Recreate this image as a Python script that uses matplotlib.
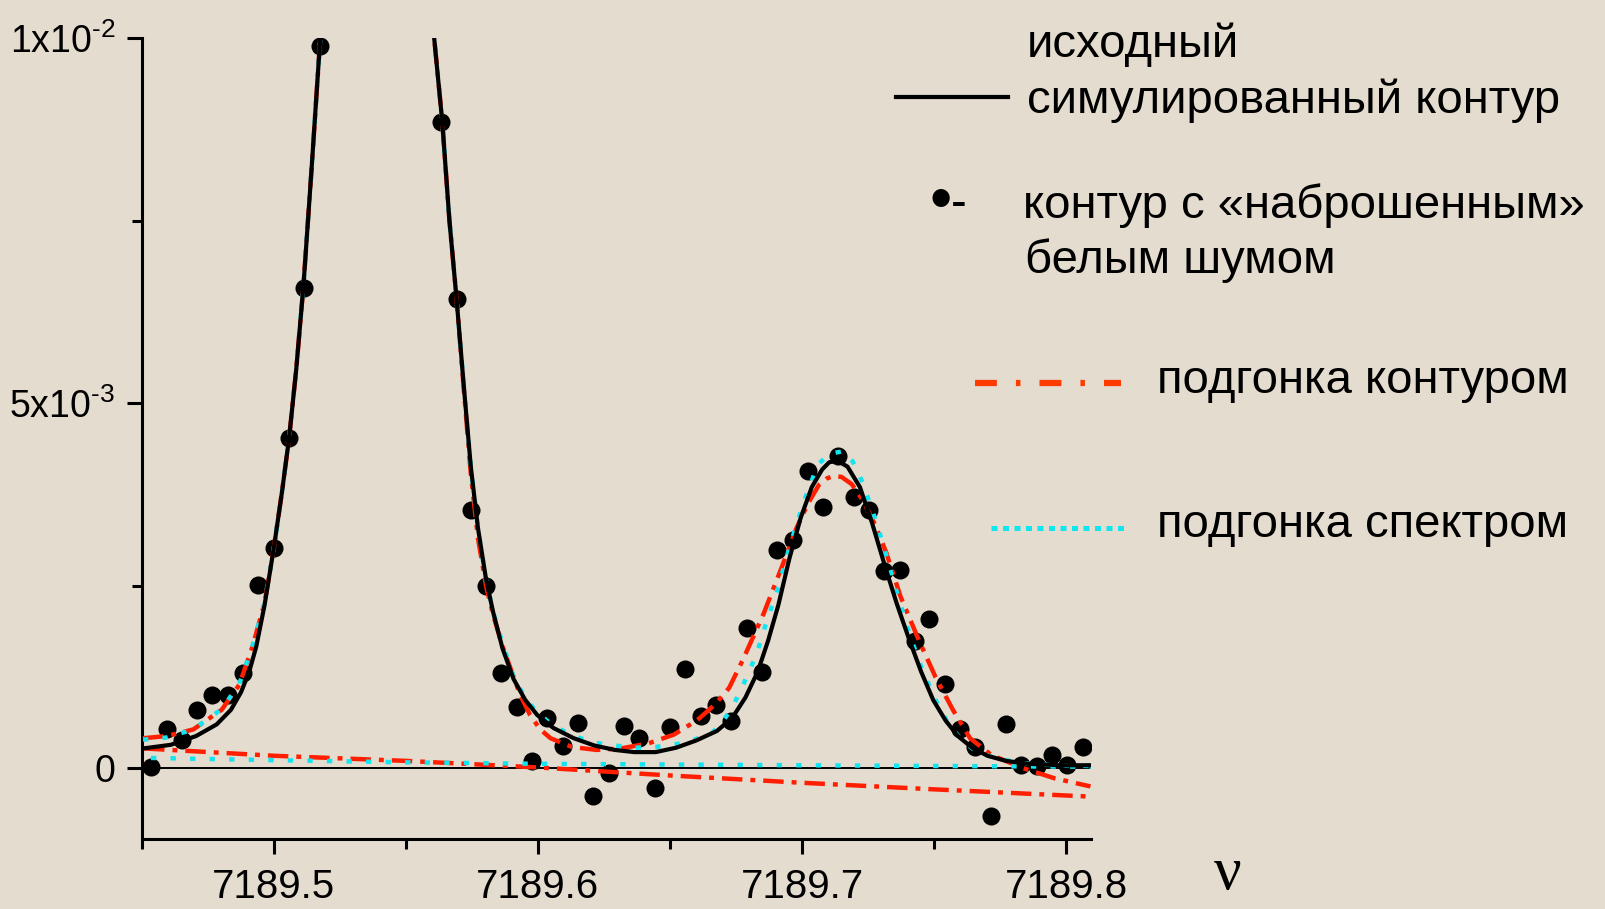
import matplotlib
matplotlib.use("Agg")
import matplotlib.pyplot as plt
from matplotlib.lines import Line2D
import numpy as np

plt.rcParams["font.family"] = ["Liberation Sans", "DejaVu Sans"]
plt.rcParams["mathtext.fontset"] = "custom"
plt.rcParams["mathtext.rm"] = "Liberation Sans"
plt.rcParams["mathtext.it"] = "Liberation Sans:italic"
plt.rcParams["mathtext.bf"] = "Liberation Sans:bold"

# all intensities below are in units of 1e-3
UNIT = 1e-3

# noisy contour (points)
noisy_nu = [7189.4536, 7189.4594, 7189.4652, 7189.4710, 7189.4768, 7189.4826,
            7189.4884, 7189.4942, 7189.5000, 7189.5058, 7189.5116, 7189.5174,
            7189.5634, 7189.5692, 7189.5746, 7189.5804, 7189.5862, 7189.5920,
            7189.5978, 7189.6036, 7189.6094, 7189.6152, 7189.6210, 7189.6268,
            7189.6326, 7189.6384, 7189.6442, 7189.6500, 7189.6558, 7189.6616,
            7189.6674, 7189.6732, 7189.6790, 7189.6848, 7189.6906, 7189.6964,
            7189.7022, 7189.7080, 7189.7138, 7189.7196, 7189.7254, 7189.7312,
            7189.7370, 7189.7428, 7189.7482, 7189.7540, 7189.7598, 7189.7656,
            7189.7714, 7189.7772, 7189.7830, 7189.7888, 7189.7946, 7189.8004,
            7189.8062]
noisy_val = [0.01, 0.53, 0.38, 0.79, 1.00, 1.00, 1.31, 2.51, 3.02, 4.52, 6.57, 9.89,
             8.85, 6.43, 3.53, 2.50, 1.31, 0.84, 0.10, 0.69, 0.31, 0.62, -0.38, -0.07,
             0.58, 0.42, -0.27, 0.56, 1.36, 0.72, 0.86, 0.65, 1.92, 1.32, 2.99, 3.12,
             4.07, 3.58, 4.28, 3.71, 3.54, 2.70, 2.71, 1.74, 2.04, 1.15, 0.53, 0.29,
             -0.66, 0.60, 0.04, 0.03, 0.18, 0.04, 0.29]

# original simulated contour
sim_nu = [7189.4505, 7189.4610, 7189.4706, 7189.4784, 7189.4838, 7189.4876,
          7189.4907, 7189.4934, 7189.4965, 7189.5000, 7189.5031, 7189.5058,
          7189.5085, 7189.5112, 7189.5143, 7189.5174, 7189.5186,
          7189.5599, 7189.5607, 7189.5638, 7189.5665, 7189.5692, 7189.5719,
          7189.5746, 7189.5773, 7189.5804, 7189.5831, 7189.5866, 7189.5908,
          7189.5951, 7189.5997, 7189.6059, 7189.6136, 7189.6214, 7189.6291,
          7189.6365, 7189.6446, 7189.6523, 7189.6600, 7189.6678, 7189.6736,
          7189.6786, 7189.6832, 7189.6871, 7189.6910, 7189.6952, 7189.6995,
          7189.7037, 7189.7076, 7189.7103, 7189.7134, 7189.7172, 7189.7219,
          7189.7265, 7189.7312, 7189.7358, 7189.7404, 7189.7451, 7189.7497,
          7189.7544, 7189.7590, 7189.7644, 7189.7702, 7189.7772, 7189.7857,
          7189.7973, 7189.8092]
sim_val = [0.27, 0.32, 0.44, 0.60, 0.80, 1.04, 1.32, 1.67, 2.23, 3.01, 3.78, 4.52,
           5.46, 6.59, 8.20, 9.89, 10.45,
           10.45, 10.01, 8.85, 7.50, 6.43, 5.25, 4.13, 3.29, 2.58, 2.13, 1.64, 1.22,
           0.94, 0.73, 0.55, 0.41, 0.31, 0.25, 0.22, 0.22, 0.28, 0.38, 0.51, 0.69,
           0.97, 1.32, 1.74, 2.23, 2.87, 3.43, 3.85, 4.09, 4.19, 4.21, 4.13, 3.85,
           3.36, 2.79, 2.26, 1.78, 1.32, 0.93, 0.65, 0.44, 0.28, 0.17, 0.10, 0.06,
           0.04, 0.04]

# fit by contour (red): line + baseline
fitc_nu = [7189.4505, 7189.4594, 7189.4695, 7189.4803, 7189.4869, 7189.4919,
           7189.4965, 7189.5000, 7189.5031, 7189.5058, 7189.5085, 7189.5112,
           7189.5143, 7189.5174, 7189.5186,
           7189.5599, 7189.5607, 7189.5638, 7189.5665, 7189.5692, 7189.5719,
           7189.5746, 7189.5773, 7189.5804, 7189.5831, 7189.5866, 7189.5897,
           7189.5932, 7189.5970, 7189.6009, 7189.6048, 7189.6129, 7189.6222,
           7189.6314, 7189.6419, 7189.6515, 7189.6604, 7189.6670, 7189.6724,
           7189.6778, 7189.6855, 7189.6925, 7189.6979, 7189.7025, 7189.7064,
           7189.7095, 7189.7118, 7189.7149, 7189.7188, 7189.7230, 7189.7277,
           7189.7319, 7189.7373, 7189.7439, 7189.7505, 7189.7571, 7189.7636,
           7189.7717, 7189.7837, 7189.7957, 7189.8092]
fitc_val = [0.41, 0.44, 0.53, 0.80, 1.14, 1.66, 2.26, 3.01, 3.78, 4.52, 5.46, 6.59,
            8.20, 9.89, 10.45,
            10.45, 10.01, 8.85, 7.50, 6.43, 5.21, 4.03, 3.15, 2.49, 2.09, 1.67, 1.36,
            1.01, 0.73, 0.53, 0.41, 0.29, 0.25, 0.27, 0.34, 0.46, 0.66, 0.87, 1.10,
            1.50, 2.12, 2.77, 3.29, 3.64, 3.88, 3.97, 4.00, 3.99, 3.89, 3.67, 3.33,
            2.95, 2.35, 1.78, 1.25, 0.80, 0.41, 0.18, 0.00, -0.14, -0.25]
basec_nu = [7189.4509, 7189.50, 7189.55, 7189.60, 7189.65, 7189.70, 7189.75, 7189.8094]
basec_val = [0.27, 0.17, 0.10, 0.01, -0.10, -0.20, -0.29, -0.39]

# fit by spectrum (cyan): line + baseline
fits_nu = [7189.4505, 7189.4594, 7189.4695, 7189.4803, 7189.4869, 7189.4919,
           7189.4965, 7189.5000, 7189.5031, 7189.5058, 7189.5085, 7189.5112,
           7189.5143, 7189.5174, 7189.5186,
           7189.5599, 7189.5607, 7189.5638, 7189.5665, 7189.5692, 7189.5719,
           7189.5746, 7189.5773, 7189.5804, 7189.5831, 7189.5866, 7189.5908,
           7189.5951, 7189.5997, 7189.6059, 7189.6136, 7189.6214, 7189.6291,
           7189.6368, 7189.6446, 7189.6562, 7189.6658, 7189.6697, 7189.6740,
           7189.6778, 7189.6828, 7189.6867, 7189.6906, 7189.6940, 7189.6975,
           7189.7014, 7189.7060, 7189.7107, 7189.7157, 7189.7192, 7189.7227,
           7189.7269, 7189.7308, 7189.7339, 7189.7377, 7189.7412, 7189.7455,
           7189.7505, 7189.7551, 7189.7605, 7189.7663, 7189.7741, 7189.7837,
           7189.7953, 7189.8092]
fits_val = [0.39, 0.42, 0.53, 0.81, 1.15, 1.67, 2.26, 3.01, 3.78, 4.52, 5.46, 6.59,
            8.20, 9.89, 10.45,
            10.45, 10.01, 8.85, 7.50, 6.43, 5.25, 4.13, 3.29, 2.57, 2.13, 1.71, 1.25,
            0.97, 0.76, 0.58, 0.44, 0.35, 0.31, 0.28, 0.29, 0.35, 0.48, 0.62, 0.86,
            1.15, 1.56, 2.02, 2.43, 2.87, 3.29, 3.72, 4.16, 4.31, 4.34, 4.20, 3.93,
            3.50, 3.06, 2.65, 2.19, 1.78, 1.35, 0.94, 0.63, 0.38, 0.22, 0.13, 0.07,
            0.04, 0.03]
bases_nu = [7189.4535, 7189.50, 7189.55, 7189.60, 7189.65, 7189.70, 7189.75, 7189.8094]
bases_val = [0.14, 0.11, 0.08, 0.06, 0.05, 0.04, 0.03, 0.02]

x_ticks = [7189.5, 7189.6, 7189.7, 7189.8]
x_labels = ["7189.5", "7189.6", "7189.7", "7189.8"]
y_ticks = [0, 5e-3, 1e-2]
y_labels = ["0", r"5x10$^{\text{-}3}$", r"1x10$^{\text{-}2}$"]

BG = "#e4dccf"
RED = "#ff1e00"
CYAN = "#12e4f0"

W, H = 1605, 909
fig = plt.figure(figsize=(W / 100, H / 100), dpi=100, facecolor=BG)
ax = fig.add_axes([141.7 / W, 70 / H, 949.3 / W, 801 / H])
ax.set_facecolor("none")

s = lambda v: np.array(v) * UNIT

ax.axhline(0, color="black", lw=1.4, zorder=1)
ax.plot(noisy_nu, s(noisy_val), "o", color="black", ms=13, mew=0, zorder=2)
ax.plot(basec_nu, s(basec_val), color=RED, lw=3.2,
        linestyle=(0, (4.6, 1.8, 1.1, 1.8)), zorder=3)
ax.plot(fitc_nu, s(fitc_val), color=RED, lw=3.2,
        linestyle=(0, (4.6, 1.8, 1.1, 1.8)), zorder=3)
ax.plot(bases_nu, s(bases_val), color=CYAN, lw=3.2,
        linestyle=(0, (1.2, 3.2)), zorder=4)
ax.plot(fits_nu, s(fits_val), color=CYAN, lw=3.2,
        linestyle=(0, (1.2, 3.2)), zorder=4)
ax.plot(sim_nu, s(sim_val), color="black", lw=3.0, zorder=5)

ax.set_xlim(7189.4509, 7189.8094)
ax.set_ylim(-0.97e-3, 1.0e-2)

for side in ("top", "right"):
    ax.spines[side].set_visible(False)
for side in ("left", "bottom"):
    ax.spines[side].set_linewidth(2.2)

ax.set_xticks(x_ticks)
ax.set_xticklabels(x_labels, fontsize=29)
ax.set_xticks([7189.45, 7189.55, 7189.65, 7189.75], minor=True)
ax.set_yticks(y_ticks)
ax.set_yticklabels(y_labels, fontsize=27)
ax.set_yticks([2.5e-3, 7.5e-3], minor=True)
ax.tick_params(which="major", direction="out", length=11, width=2.2)
ax.tick_params(which="minor", direction="out", length=7, width=2.2)
ax.tick_params(axis="x", which="major", pad=10)
ax.tick_params(axis="y", which="major", pad=8)

# axis symbol
fig.text(1228 / W, 1 - 874 / H, "ν", family=["Liberation Serif", "DejaVu Serif"],
         fontsize=44, ha="center", va="center")

# hand-placed legend
def fy(y):
    return 1 - y / H

LEG = 34
fig.text(1027 / W, fy(45), "исходный", fontsize=LEG, va="center")
fig.text(1027 / W, fy(101), "симулированный контур", fontsize=LEG, va="center")
fig.add_artist(Line2D([896 / W, 1008 / W], [fy(97)] * 2, color="black", lw=3,
                      transform=fig.transFigure))

fig.text(929 / W, fy(203), "•", fontsize=46, va="center")
fig.text(951 / W, fy(205), "-", fontsize=LEG, va="center")
fig.text(1023 / W, fy(206), "контур с «наброшенным»", fontsize=LEG, va="center")
fig.text(1025 / W, fy(261), "белым шумом", fontsize=LEG, va="center")

fig.add_artist(Line2D([975 / W, 1121 / W], [fy(383)] * 2, color="#ff3c00", lw=4.5,
                      linestyle=(0, (3.5, 3.05, 0.72, 3.05)), dash_capstyle="butt",
                      transform=fig.transFigure))
fig.text(1157 / W, fy(381), "подгонка контуром", fontsize=LEG, va="center")

fig.add_artist(Line2D([991 / W, 1129 / W], [fy(528)] * 2, color=CYAN, lw=3.6,
                      linestyle=(0, (1.2, 1.1)), dash_capstyle="butt",
                      transform=fig.transFigure))
fig.text(1157 / W, fy(525), "подгонка спектром", fontsize=LEG, va="center")

fig.savefig("out.png", dpi=100, facecolor=BG)
